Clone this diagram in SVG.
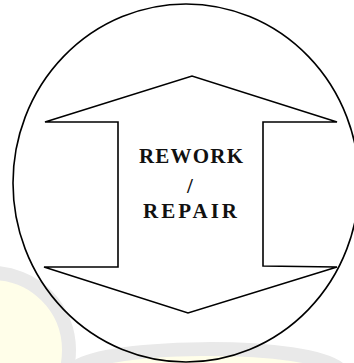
<svg xmlns="http://www.w3.org/2000/svg" width="354" height="363" viewBox="0 0 354 363">
  <style>
    .wm { fill: #fffee9; stroke: #e9e9e9; stroke-width: 14; }
    .ln { fill: none; stroke: #000; stroke-width: 1.6; stroke-linejoin: miter; }
    .lbl { font-family: "Liberation Serif", "Times New Roman", serif; font-weight: bold; font-size: 21px; fill: #111; text-anchor: middle; }
  </style>
  <rect width="354" height="363" fill="#fff"/>
  <g id="watermark">
    <circle class="wm" cx="-8" cy="350" r="77"/>
    <path class="wm" d="M 72 372 C 80 344, 320 339, 342 372 Z"/>
  </g>
  <g id="ring">
    <ellipse class="ln" cx="186" cy="183" rx="173" ry="179"/>
  </g>
  <g id="double-arrow">
    <path class="ln" d="M45,122 L192,76 L337,122 L263,122 L263,266 L337,267 L188,313 L44,267 L118,267 L118,122 Z"/>
  </g>
  <g id="label">
    <text class="lbl" x="191" y="163" textLength="104" lengthAdjust="spacing">REWORK</text>
    <text class="lbl" x="190" y="193">/</text>
    <text class="lbl" x="190" y="218" textLength="94" lengthAdjust="spacing">REPAIR</text>
  </g>
  <g id="connectors"/>
</svg>
